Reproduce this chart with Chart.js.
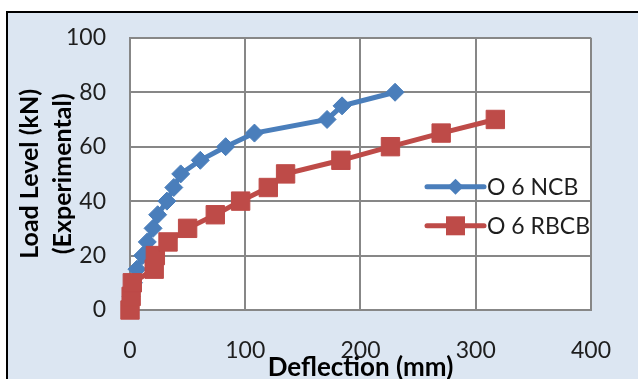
<!DOCTYPE html>
<html lang="en">
<head>
<meta charset="utf-8">
<title>Load Level vs Deflection</title>
<script src="https://cdn.jsdelivr.net/npm/chart.js@4.4.1/dist/chart.umd.min.js"></script>
<style>
  html, body { margin: 0; padding: 0; background: #fff; overflow: hidden; }
  #frame {
    position: absolute; left: 6px; top: 11px; width: 700px; height: 420px;
    border-left: 2px solid #000; border-top: 2px solid #000; background: #dce6f2;
  }
  #chart { position: absolute; left: 0; top: 0; }
</style>
</head>
<body>
<div id="frame"></div>
<canvas id="chart" width="638" height="379"></canvas>
<script>
// --- DUOMENYS ---
const NCB_LABEL = 'O 6 NCB';
const RBCB_LABEL = 'O 6 RBCB';

// deflection (mm) / load (kN)
const NCB_DEFLECTION = [0, 1, 3, 6, 11, 15, 20, 24, 32, 38, 44, 61, 83, 108, 171, 184, 230];
const NCB_LOAD = [0, 5, 10, 15, 20, 25, 30, 35, 40, 45, 50, 55, 60, 65, 70, 75, 80];

const RBCB_DEFLECTION = [0, 1, 2, 21, 22, 33, 50, 74, 96, 120, 135, 183, 226, 270, 317];
const RBCB_LOAD = [0, 5, 10, 15, 20, 25, 30, 35, 40, 45, 50, 55, 60, 65, 70];

const X_MIN = 0, X_MAX = 400, X_STEP = 100;
const Y_MIN = 0, Y_MAX = 100, Y_STEP = 20;

// --- STILIUS ---
const BLUE = '#4a7ebb';
const RED = '#be4b48';
const GRID = '#878787';
const TEXT = '#1e1e1e';
const FONT = 'Lato';

function toPoints(xs, ys) {
    return xs.map((x, i) => ({ x, y: ys[i] }));
}

// baltas braižymo plotas
const plotBackground = {
    id: 'plotBackground',
    beforeDraw(chart) {
        const { ctx, chartArea: a } = chart;
        ctx.save();
        ctx.fillStyle = '#fff';
        ctx.fillRect(a.left, a.top, a.right - a.left, a.bottom - a.top);
        ctx.restore();
    }
};

// legenda paties ploto viduje
function drawMarker(ctx, style, x, y) {
    ctx.beginPath();
    if (style === 'rectRot') {
        const r = 8;
        ctx.moveTo(x, y - r);
        ctx.lineTo(x + r, y);
        ctx.lineTo(x, y + r);
        ctx.lineTo(x - r, y);
        ctx.closePath();
    } else {
        const h = 9.5;
        ctx.rect(x - h, y - h, 2 * h, 2 * h);
    }
    ctx.fill();
}

const insideLegend = {
    id: 'insideLegend',
    afterDatasetsDraw(chart) {
        const { ctx, chartArea: a } = chart;
        const x0 = a.left + 297, x1 = a.left + 354;
        const rows = [a.top + 149, a.top + 188];
        ctx.save();
        chart.data.datasets.forEach((ds, i) => {
            const y = rows[i];
            ctx.strokeStyle = ds.borderColor;
            ctx.fillStyle = ds.backgroundColor;
            ctx.lineWidth = 5;
            ctx.lineCap = 'round';
            ctx.beginPath();
            ctx.moveTo(x0, y);
            ctx.lineTo(x1, y);
            ctx.stroke();
            drawMarker(ctx, ds.pointStyle, (x0 + x1) / 2, y);
            ctx.fillStyle = TEXT;
            ctx.font = `23px ${FONT}`;
            ctx.textAlign = 'left';
            ctx.textBaseline = 'middle';
            ctx.fillText(ds.label, x1 + 3, y + 1);
        });
        ctx.restore();
    }
};

// --- DIAGRAMA ---
const ctx = document.getElementById('chart').getContext('2d');
new Chart(ctx, {
    type: 'line',
    data: {
        datasets: [
            {
                label: NCB_LABEL,
                data: toPoints(NCB_DEFLECTION, NCB_LOAD),
                borderColor: BLUE,
                backgroundColor: BLUE,
                borderWidth: 5,
                pointStyle: 'rectRot',
                pointRadius: 9,
                pointBorderWidth: 1,
                tension: 0,
                clip: false,
                order: 1
            },
            {
                label: RBCB_LABEL,
                data: toPoints(RBCB_DEFLECTION, RBCB_LOAD),
                borderColor: RED,
                backgroundColor: RED,
                borderWidth: 5,
                pointStyle: 'rect',
                pointRadius: 13,
                pointBorderWidth: 1,
                tension: 0,
                clip: false,
                order: 0
            }
        ]
    },
    options: {
        responsive: false,
        animation: false,
        layout: { padding: { top: 29, right: 33, left: 0, bottom: 0 } },
        plugins: {
            legend: { display: false },
            tooltip: { enabled: false }
        },
        scales: {
            x: {
                type: 'linear',
                min: X_MIN,
                max: X_MAX,
                ticks: { stepSize: X_STEP, padding: 27, color: TEXT, font: { family: FONT, size: 23 } },
                grid: { color: GRID, lineWidth: 2, drawTicks: false },
                border: { color: GRID, width: 2 },
                title: {
                    display: true,
                    text: 'Deflection (mm)',
                    color: '#000',
                    font: { family: FONT, size: 26, weight: 'bold', lineHeight: '22px' },
                    padding: 0
                },
                afterFit(scale) { scale.height = 69; }
            },
            y: {
                min: Y_MIN,
                max: Y_MAX,
                ticks: { stepSize: Y_STEP, padding: 24, color: TEXT, font: { family: FONT, size: 23 } },
                grid: { color: GRID, lineWidth: 2, drawTicks: false },
                border: { color: GRID, width: 2 },
                title: {
                    display: true,
                    text: ['Load Level (kN)', '(Experimental)'],
                    color: '#000',
                    font: { family: FONT, size: 25, weight: 'bold', lineHeight: '33px' },
                    padding: { top: 13.5, bottom: 0 }
                },
                afterFit(scale) { scale.width = 130; }
            }
        }
    },
    plugins: [plotBackground, insideLegend]
});
</script>
</body>
</html>
